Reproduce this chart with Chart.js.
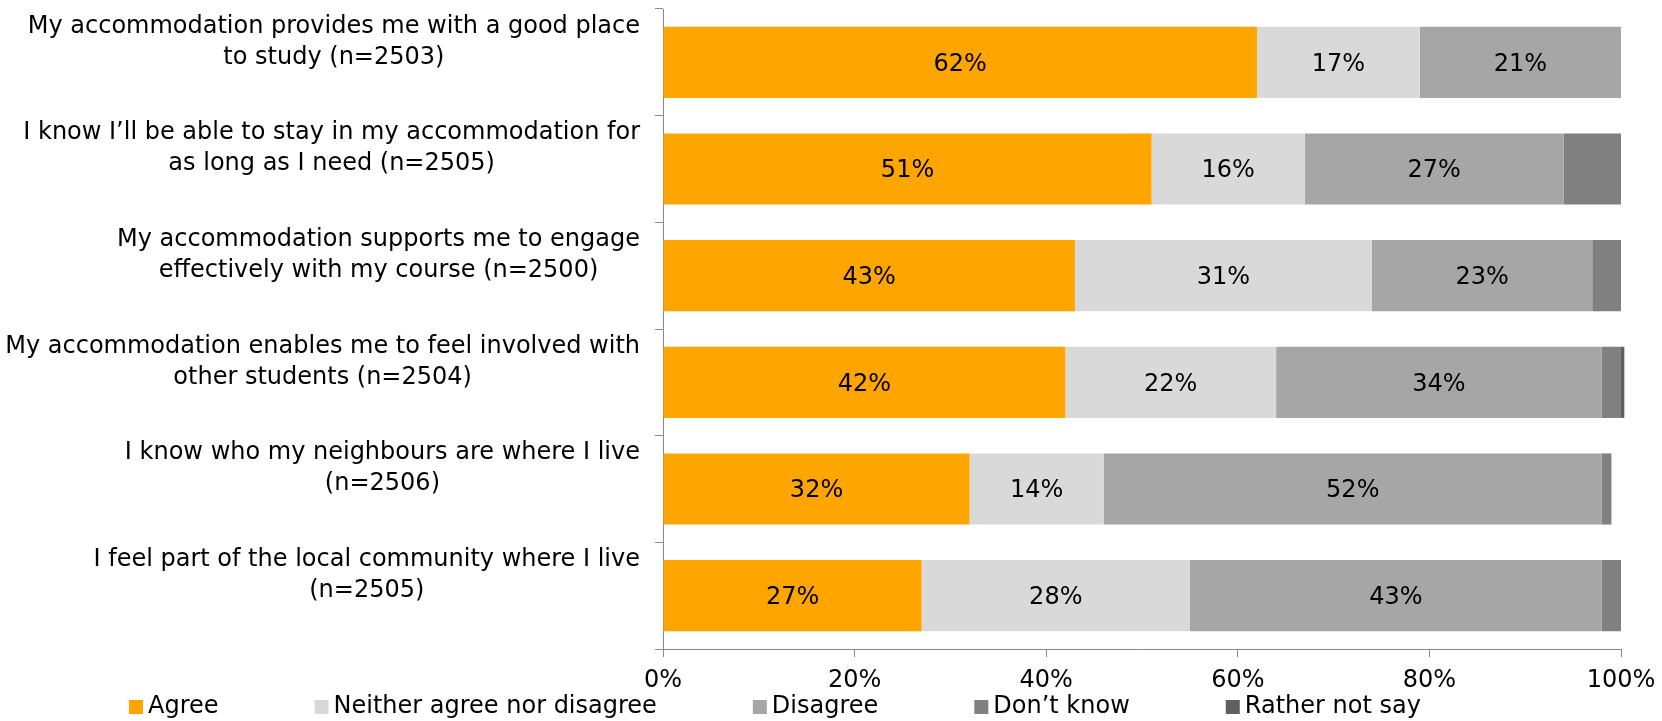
<!DOCTYPE html>
<html>
<head>
<meta charset="utf-8">
<title>Accommodation survey</title>
<script src="https://cdn.jsdelivr.net/npm/chart.js@4/dist/chart.umd.min.js"></script>
<style>
  html, body { margin: 0; padding: 0; background: #ffffff; }
  #wrap { width: 1662px; height: 721px; }
</style>
</head>
<body>
<div id="wrap"><canvas id="chart" width="1662" height="721"></canvas></div>
<script>
// Statements (each label already split into its two display lines)
const categories = [
  ["My accommodation provides me with a good place", "to study (n=2503)"],
  ["I know I\u2019ll be able to stay in my accommodation for", "as long as I need (n=2505)"],
  ["My accommodation supports me to engage", "effectively with my course (n=2500)"],
  ["My accommodation enables me to feel involved with", "other students (n=2504)"],
  ["I know who my neighbours are where I live", "(n=2506)"],
  ["I feel part of the local community where I live", "(n=2505)"]
];

// Share of respondents (%) per answer
const agree      = [62, 51, 43, 42, 32, 27];
const neither    = [17, 16, 31, 22, 14, 28];
const disagree   = [21, 27, 23, 34, 52, 43];
const dontKnow   = [0, 6, 3, 2, 1, 2];
const ratherNot  = [0, 0, 0, 0.35, 0, 0];

const seriesNames = ["Agree", "Neither agree nor disagree", "Disagree", "Don\u2019t know", "Rather not say"];
const xTicks = [0, 20, 40, 60, 80, 100];

const FONT = "'DejaVu Sans', Verdana, sans-serif";
const AXIS_GREY = "#898989";
const colors = ["#FFA500", "#D9D9D9", "#A6A6A6", "#808080", "#5F5F5F"];

// Category labels: each two-line block centred on itself, block right-aligned to the axis
const categoryLabels = {
  id: "categoryLabels",
  afterDraw(chart) {
    const ctx = chart.ctx;
    const ys = chart.scales.y;
    const right = chart.chartArea.left - 23;
    const lineH = 31;
    ctx.save();
    ctx.font = "24px " + FONT;
    ctx.fillStyle = "#000";
    ctx.textAlign = "center";
    ctx.textBaseline = "middle";
    categories.forEach((lines, i) => {
      const cy = ys.getPixelForTick(i) - 20.5;
      const w = Math.max(...lines.map(l => ctx.measureText(l).width));
      const cx = right - w / 2;
      lines.forEach((l, j) => {
        ctx.fillText(l, cx, cy + (j - (lines.length - 1) / 2) * lineH);
      });
    });
    ctx.restore();
  }
};

// Percent labels inside the wider segments
const valueLabels = {
  id: "valueLabels",
  afterDatasetsDraw(chart) {
    const ctx = chart.ctx;
    ctx.save();
    ctx.font = "24px " + FONT;
    ctx.fillStyle = "#000";
    ctx.textAlign = "center";
    ctx.textBaseline = "middle";
    chart.data.datasets.forEach((ds, di) => {
      const meta = chart.getDatasetMeta(di);
      meta.data.forEach((el, i) => {
        const v = ds.data[i];
        if (v >= 10) {
          ctx.fillText(Math.round(v) + "%", (el.x + el.base) / 2, el.y + 2);
        }
      });
    });
    ctx.restore();
  }
};

// Legend row along the bottom edge
const bottomLegend = {
  id: "bottomLegend",
  afterDraw(chart) {
    const ctx = chart.ctx;
    ctx.save();
    ctx.font = "24px " + FONT;
    ctx.textAlign = "left";
    ctx.textBaseline = "middle";
    let x = 129;
    const y = 707;
    chart.data.datasets.forEach((ds) => {
      ctx.fillStyle = ds.backgroundColor;
      ctx.fillRect(x, y - 7, 14, 14);
      ctx.fillStyle = "#000";
      ctx.fillText(ds.label, x + 19, y);
      x += 19 + ctx.measureText(ds.label).width + 96;
    });
    ctx.restore();
  }
};

const seriesData = [agree, neither, disagree, dontKnow, ratherNot];

new Chart(document.getElementById("chart"), {
  type: "bar",
  data: {
    labels: categories.map(c => c.join(" ")),
    datasets: seriesData.map((d, i) => ({
      label: seriesNames[i],
      data: d,
      backgroundColor: colors[i],
      borderWidth: 0,
      categoryPercentage: 1,
      barPercentage: 0.667,
      clip: false
    }))
  },
  options: {
    indexAxis: "y",
    responsive: false,
    animation: false,
    devicePixelRatio: 1,
    layout: { padding: { left: 0, right: 41, top: 9, bottom: 0 } },
    plugins: {
      legend: { display: false },
      tooltip: { enabled: false }
    },
    scales: {
      x: {
        stacked: true,
        min: 0,
        max: 100,
        afterBuildTicks(scale) { scale.ticks = xTicks.map(v => ({ value: v })); },
        afterFit(scale) {
          scale.height = 72;
          scale.paddingLeft = 0;
          scale.paddingRight = 0;
        },
        ticks: {
          callback: v => v + "%",
          font: { family: FONT, size: 24 },
          color: "#000",
          padding: 9,
          maxRotation: 0
        },
        grid: {
          drawOnChartArea: false,
          drawTicks: true,
          tickLength: 8,
          color: AXIS_GREY,
          lineWidth: 1
        },
        border: { color: AXIS_GREY, width: 1 }
      },
      y: {
        stacked: true,
        afterFit(scale) { scale.width = 663; },
        ticks: { display: false },
        grid: {
          offset: true,
          drawOnChartArea: false,
          drawTicks: true,
          tickLength: 8,
          color: AXIS_GREY,
          lineWidth: 1
        },
        border: { color: AXIS_GREY, width: 1 }
      }
    }
  },
  plugins: [categoryLabels, valueLabels, bottomLegend]
});
</script>
</body>
</html>
